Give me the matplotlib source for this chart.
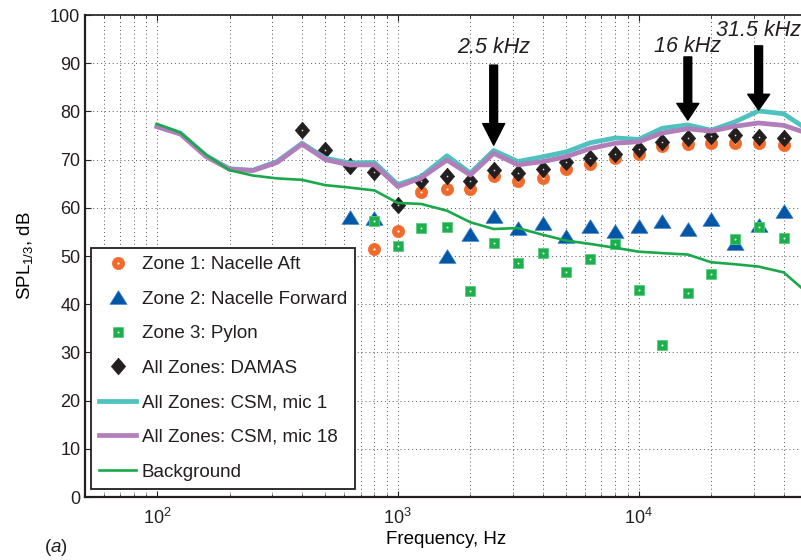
import matplotlib as mpl
import matplotlib.pyplot as plt
from matplotlib.ticker import LogLocator, MultipleLocator, NullFormatter

mpl.rcParams['font.family'] = 'Liberation Sans'
mpl.rcParams['mathtext.fontset'] = 'custom'
mpl.rcParams['mathtext.rm'] = 'Liberation Sans'
mpl.rcParams['mathtext.it'] = 'Liberation Sans:italic'
mpl.rcParams['mathtext.default'] = 'regular'
mpl.rcParams['text.color'] = '#231f20'
mpl.rcParams['xtick.color'] = '#231f20'
mpl.rcParams['ytick.color'] = '#231f20'

# 1/3-octave band centres, Hz
freq_lines = [100, 125, 160, 200, 250, 315, 400, 500, 630, 800, 1000, 1250,
              1600, 2000, 2500, 3150, 4000, 5000, 6300, 8000, 10000, 12500,
              16000, 20000, 25000, 31500, 40000, 50000]

csm_mic1 = [77.1, 75.5, 70.8, 68.1, 67.8, 69.6, 73.4, 70.3, 69.3, 69.4, 64.8,
            66.5, 70.8, 67.2, 71.9, 69.6, 70.6, 71.6, 73.5, 74.5, 74.2, 76.5,
            77.2, 76.1, 77.8, 80.1, 79.5, 76.3]
csm_mic18 = [76.8, 75.3, 70.6, 68.0, 67.7, 69.4, 73.2, 70.0, 68.9, 68.9, 64.4,
             66.2, 69.9, 66.8, 71.3, 68.9, 69.6, 70.6, 72.3, 73.4, 73.7, 75.5,
             76.4, 75.9, 76.9, 77.6, 77.1, 75.5]
background = [77.4, 75.6, 71.0, 67.8, 66.7, 66.1, 65.8, 64.7, 64.2, 63.6, 61.0,
              60.8, 59.4, 57.0, 55.6, 55.8, 54.4, 53.2, 52.5, 51.7, 50.9, 50.6,
              50.3, 48.7, 48.3, 47.8, 46.6, 42.4]

freq_damas = [400, 500, 630, 800, 1000, 1250, 1600, 2000, 2500, 3150, 4000,
              5000, 6300, 8000, 10000, 12500, 16000, 20000, 25000, 31500, 40000]
damas = [76.1, 72.0, 68.7, 67.5, 60.5, 65.5, 66.5, 65.5, 67.9, 67.2, 68.0,
         69.4, 70.3, 71.2, 72.3, 73.7, 74.4, 74.8, 75.1, 74.6, 74.5]

freq_z1 = [800, 1000, 1250, 1600, 2000, 2500, 3150, 4000, 5000, 6300, 8000,
           10000, 12500, 16000, 20000, 25000, 31500, 40000]
zone1 = [51.5, 55.2, 63.2, 64.0, 64.0, 66.5, 65.6, 66.2, 68.0, 69.0, 70.3,
         71.2, 72.8, 73.3, 73.5, 73.5, 73.4, 73.0]

freq_z2 = [630, 800, 1600, 2000, 2500, 3150, 4000, 5000, 6300, 8000, 10000,
           12500, 16000, 20000, 25000, 31500, 40000]
zone2 = [58.0, 57.9, 50.0, 54.6, 58.2, 55.9, 56.8, 54.1, 56.2, 55.1, 56.2,
         57.2, 55.5, 57.7, 52.8, 56.5, 59.4]

freq_z3 = [800, 1000, 1250, 1600, 2000, 2500, 3150, 4000, 5000, 6300, 8000,
           10000, 12500, 16000, 20000, 25000, 31500, 40000]
zone3 = [57.2, 52.1, 55.8, 56.1, 42.7, 52.6, 48.6, 50.6, 46.6, 49.3, 52.5,
         42.9, 31.5, 42.3, 46.2, 53.5, 56.1, 53.8]

# annotations: label, frequency, arrow tail, arrow tip, label baseline
arrow_labels = ['2.5 kHz', '16 kHz', '31.5 kHz']
arrow_freqs = [2500, 16000, 31500]
arrow_tail = [89.6, 91.3, 93.6]
arrow_tip = [73.0, 78.2, 80.3]
label_y = [92.1, 92.4, 95.6]
head_len = [15.5, 12.0, 11.3]

c_orange = '#f26a2b'
c_blue = '#0057a8'
c_green = '#1bb04c'
c_black = '#231f20'
c_cyan = '#4fc1be'
c_purple = '#b27dbb'
c_bg = '#1aa84a'

# MATLAB-like shapes: wide triangle, tall diamond
tri = [(0, 0.8), (1, -0.8), (-1, -0.8), (0, 0.8)]
dia = [(0, 1), (0.86, 0), (0, -1), (-0.86, 0), (0, 1)]

fig = plt.figure(figsize=(8.01, 5.6), dpi=100)
ax = fig.add_axes([0.1055, 0.1125, 0.902, 0.8607])

h1, = ax.plot(freq_z1, zone1, 'o', ms=8.8, color=c_orange, mec=c_orange, mew=0.5)
d1, = ax.plot(freq_z1, zone1, 'o', ms=1.6, color='white', mew=0)
h2, = ax.plot(freq_z2, zone2, ls='none', marker=tri, ms=12.3, color=c_blue,
              mec='#3d7fc0', mew=0.5)
h3, = ax.plot(freq_z3, zone3, 's', ms=7.6, color=c_green, mec='#5cc97f', mew=0.6)
d3, = ax.plot(freq_z3, zone3, 'o', ms=1.4, color='white', mew=0)
h4, = ax.plot(freq_damas, damas, ls='none', marker=dia, ms=12, color=c_black,
              mec=c_black, mew=0.5)
ax.plot(freq_damas, damas, 'o', ms=1.2, color='#dddddd', mew=0)
h5, = ax.plot(freq_lines, csm_mic1, '-', lw=3.4, color=c_cyan)
h6, = ax.plot(freq_lines, csm_mic18, '-', lw=3.4, color=c_purple)
h7, = ax.plot(freq_lines, background, '-', lw=1.9, color=c_bg)

for lab, f, y0, y1, ly, hl in zip(arrow_labels, arrow_freqs, arrow_tail,
                                  arrow_tip, label_y, head_len):
    ax.annotate('', xy=(f, y1), xytext=(f, y0),
                arrowprops=dict(facecolor='black', edgecolor='black',
                                width=5.6, headwidth=15.8, headlength=hl,
                                shrink=0))
    ax.text(f, ly, lab, ha='center', va='baseline', fontsize=15.5,
            style='italic')

ax.set_xscale('log')
ax.set_xlim(50, 50000)
ax.set_ylim(0, 100)
ax.yaxis.set_major_locator(MultipleLocator(10))
ax.xaxis.set_major_locator(LogLocator(base=10))
ax.xaxis.set_minor_locator(LogLocator(base=10, subs=range(2, 10)))
ax.xaxis.set_minor_formatter(NullFormatter())

ax.grid(which='major', axis='both', ls=(0, (1, 3)), color='#555555', lw=0.7)
ax.grid(which='minor', axis='x', ls=(0, (1, 3)), color='#555555', lw=0.7)
ax.set_axisbelow(True)

ax.tick_params(which='both', direction='in', top=True, right=True,
               labelsize=13)
ax.tick_params(which='major', length=4)
ax.tick_params(which='minor', length=2)
ax.tick_params(axis='x', pad=8)
ax.tick_params(axis='y', pad=3)
for side in ['left', 'bottom']:
    ax.spines[side].set_linewidth(1.6)
ax.spines['top'].set_linewidth(1.2)
for s in ax.spines.values():
    s.set_color(c_black)

ax.set_xlabel('Frequency, Hz', fontsize=13.5, labelpad=2)
ax.set_ylabel('SPL$_{1/3}$, dB', fontsize=13.5)
ax.yaxis.set_label_coords(-0.069, 0.5)

leg = ax.legend([(h1, d1), h2, (h3, d3), h4, h5, h6, h7],
                ['Zone 1: Nacelle Aft', 'Zone 2: Nacelle Forward',
                 'Zone 3: Pylon', 'All Zones: DAMAS', 'All Zones: CSM, mic 1',
                 'All Zones: CSM, mic 18', 'Background'],
                loc='lower left', bbox_to_anchor=(0.009, 0.0166),
                borderaxespad=0, fontsize=13.5, fancybox=False,
                framealpha=1, edgecolor=c_black, handlelength=1.95,
                handletextpad=0.3, labelspacing=0.93, borderpad=0.45)
leg.get_frame().set_linewidth(1.3)

fig.text(56 / 801, 1 - 547 / 560, r'($\it{a}$)', ha='center', va='center',
         fontsize=13.5)

plt.savefig('out.png', dpi=100)
